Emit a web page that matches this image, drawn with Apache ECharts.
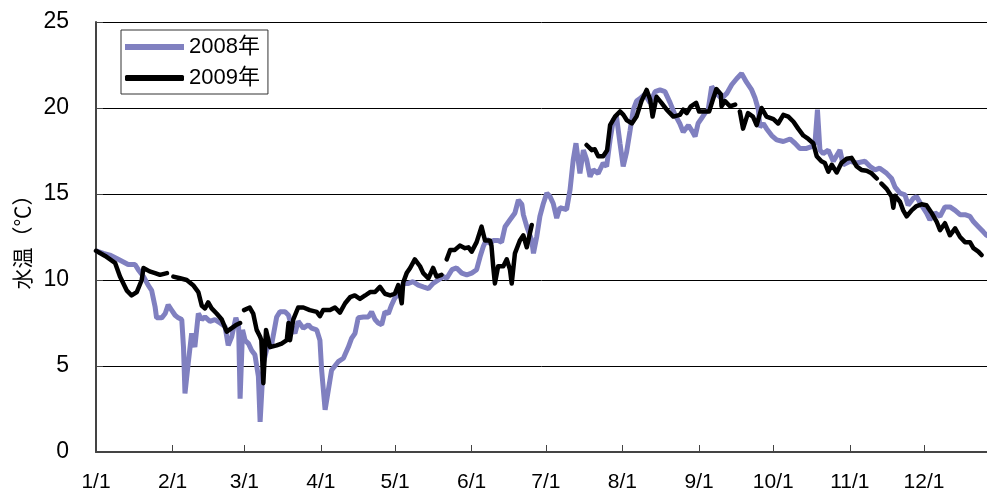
<!DOCTYPE html>
<html>
<head>
<meta charset="utf-8">
<script src="https://cdn.jsdelivr.net/npm/echarts@6/dist/echarts.min.js"></script>
<style>
html,body{margin:0;padding:0;background:#fff;}
#chart{width:987px;height:497px;}
</style>
</head>
<body>
<div id="chart"></div>
<script>
// Day of year (0 = 1/1), month ticks
var monthDays = [0, 31, 60, 91, 121, 152, 182, 213, 244, 274, 305, 335];
var monthLabels = ['1/1','2/1','3/1','4/1','5/1','6/1','7/1','8/1','9/1','10/1','11/1','12/1'];
var yTicks = [0, 5, 10, 15, 20, 25];

// 2008 water temperature
var days2008 = [0,3,5.6,8.4,11.1,13,15.8,17.1,19.2,21.1,22.5,23.9,24.5,26.6,28,29.2,30.6,32,33.3,34.7,35.4,36,37.3,38.7,40,41.4,42.8,44.1,46.1,48.1,50.2,52.2,53.5,54.9,55.5,56.6,57.7,58.3,59.3,60.3,61.7,63,64.3,65.7,66.4,67.7,69.1,71,73.1,74.4,76.5,77.9,79.1,80.5,81.8,83.9,85.9,87.2,89.3,90.6,91.3,92.7,94,95.3,96,98,100.1,102.1,103.4,104.8,106.1,108.2,110.2,111.5,112.9,114.2,115.6,116.9,118.3,119.6,120.9,122.3,123,124.3,126.4,128.3,130.4,132.4,134.5,136.4,138.5,140.5,141.9,144,145.9,148,150,152,154,155.4,156.7,158.1,159.4,160.7,162.7,164.1,165.5,167.5,169.5,170.9,172.3,172.9,174.3,176.3,177,178.3,179.6,181,182.4,183.7,185,186.4,187.7,190.4,191.8,193.1,194.2,195.8,197.2,198.5,199.9,201.2,203.2,205.2,206.6,208,209.3,210.6,212,213.3,214.7,216.1,217.4,218.7,220.1,222.1,224.2,226.2,228.2,230.2,232.3,234.3,236.2,237.6,239.7,241,242.4,243.6,245,246.4,247.7,249.1,251,253.1,255.2,257.2,259.2,261.2,263.2,265.3,266.6,268,268.6,270,271.3,273.4,275.4,278.1,280.8,282.8,284.8,287.5,289.5,290.9,291.9,292.9,294.2,296.3,298.3,301,302.3,305.1,307.8,311.1,313.2,315.2,317.1,319.9,321.9,323.3,325.3,327.3,328.6,330.7,332,334,336,337.4,339.5,341.5,343.5,345.5,347.6,349.6,351.6,353.6,355,357,359,360.3,362];
var temp2008 = [11.7,11.55,11.45,11.25,11.05,10.9,10.9,10.6,10.2,9.7,9.4,8.45,7.8,7.8,8.05,8.55,8.25,7.95,7.8,7.7,6.1,3.4,5.15,6.9,6.1,8.05,7.7,7.85,7.6,7.7,7.5,7.3,6.2,6.7,7.1,7.8,7.3,3.1,7.1,6.5,6.3,5.9,5.65,4.4,1.75,5.15,6.0,6.2,7.85,8.15,8.15,7.95,7.3,6.9,7.6,7.2,7.4,7.2,7.1,6.5,4.75,2.45,3.6,4.75,4.85,5.25,5.45,6.1,6.6,6.9,7.8,7.85,7.85,8.15,7.7,7.5,7.4,8.15,8.05,8.55,8.95,9.2,9.0,9.8,9.8,9.9,9.7,9.6,9.5,9.8,10.0,10.2,10.1,10.6,10.7,10.4,10.3,10.4,10.6,11.35,11.95,12.4,12.1,12.3,12.3,12.2,13.1,13.5,13.9,14.65,14.4,13.8,13.1,12.3,11.55,12.5,13.7,14.45,15.05,14.85,14.45,13.6,14.2,14.1,15.25,17.0,17.95,16.2,17.55,17.0,16.0,16.4,16.2,16.8,16.6,18.15,19.3,19.5,17.95,16.6,17.45,18.7,19.9,20.4,20.55,20.8,20.3,20.95,21.05,20.95,20.3,19.6,19.1,18.6,19.0,18.7,18.35,19.1,19.4,19.7,19.9,21.25,20.85,20.55,20.85,21.35,21.7,22.0,21.5,21.05,20.6,19.9,18.9,19.1,18.8,18.4,18.15,18.05,18.2,17.95,17.65,17.65,17.75,17.95,19.9,17.55,17.35,17.55,16.9,17.55,16.7,16.9,16.8,16.9,16.6,16.4,16.5,16.2,15.9,15.4,15.05,14.95,14.35,14.75,14.85,14.35,13.9,13.5,13.9,13.7,14.25,14.25,14.05,13.8,13.8,13.7,13.4,13.1,12.8,12.6,12.5];

// 2009 water temperature (null = missing data)
var days2009 = [0,3.7,7.7,9.7,12.4,14.4,16.5,18.5,19.2,21.7,23.9,25.9,28.7,30,31.3,34,36.7,39.3,41.4,42.8,44.1,45.4,46.8,48.8,50.9,52.9,54.9,56.9,58.3,59.1,59.9,62.2,63.6,65,66.4,66.9,67.7,68.8,70.4,73.1,75.1,77.2,77.9,78.5,79.8,81.8,83.9,86.5,89.3,90.6,91.9,94.7,96.7,98.7,100.8,102.8,104.7,106.8,108.9,110.9,112.9,114.9,116.9,119,120.9,122.3,123.7,124.3,125.7,127.1,129,131.1,132.4,134.5,136.4,137.8,139.8,140.9,141.9,143.3,145.2,147.2,149.3,150.7,152,154,156,157.4,159.4,160,160.7,161.4,162.7,164.8,166.2,167.5,168.2,169.5,171.5,172.9,174.3,176.3,187,198.5,200.6,201.8,203.2,205.2,206.8,208,210,212,213.4,214.7,216.8,218.7,220.7,222.8,224.2,225.2,226.8,228.8,230.9,233.6,236.2,237.6,239,240.7,242.8,244,246.1,248.1,249.5,251,252.8,253.1,254.5,256.5,258.6,259.6,260.5,261.8,263.8,265.8,267.3,269.3,271.3,274.1,276,278.1,280.1,282.2,284.1,286.2,288.2,290.2,291.6,293.5,294.9,296.3,297.7,299.7,301.6,303.7,305.7,307.8,309.7,311.8,313.8,315.9,316.9,317.8,319.9,321.9,322.6,323.3,325.3,326.6,328,330,332,334,336,338.1,340.1,341.5,343.5,345.5,347.6,349.6,351.6,353.6,355,357,358.3];
var temp2009 = [11.7,11.4,11.0,10.2,9.4,9.1,9.3,10.0,10.7,10.5,10.4,10.3,10.4,null,10.2,10.1,10.0,9.7,9.3,8.5,8.35,8.7,8.35,8.05,7.7,7.0,7.2,7.4,7.5,null,8.25,8.4,8.05,7.1,6.7,6.5,4.0,7.1,6.1,6.2,6.3,6.5,7.5,6.5,7.7,8.4,8.4,8.25,8.15,7.9,8.25,8.25,8.4,8.1,8.65,9.0,9.1,8.9,9.1,9.3,9.3,9.6,9.2,9.1,9.2,9.7,8.65,9.85,10.4,10.7,11.2,10.8,10.4,10.1,10.7,10.2,10.3,null,11.2,11.75,11.75,12.0,11.85,11.9,11.65,12.2,13.1,12.3,12.3,12.0,10.8,9.8,10.8,10.8,11.2,10.6,9.8,11.55,12.3,12.6,11.9,13.2,null,17.85,17.55,17.6,17.2,17.2,17.55,19.0,19.5,19.8,19.6,19.3,19.1,19.5,20.4,21.05,20.5,19.5,20.65,20.3,19.9,19.5,19.6,19.9,19.7,20.1,20.3,19.8,19.8,19.8,20.45,21.1,20.8,20.1,20.4,20.1,20.2,null,19.8,18.8,19.7,19.5,19.0,20.0,19.5,19.35,19.1,19.6,19.5,19.2,18.8,18.4,18.2,17.95,17.2,16.9,16.8,16.3,16.7,16.25,16.8,17.05,17.1,16.6,16.4,16.35,16.2,15.9,null,15.6,15.3,14.85,14.2,14.9,14.55,14.05,13.7,14.05,14.3,14.4,14.35,13.9,13.4,12.9,13.3,12.6,13.0,12.5,12.2,12.2,11.85,11.65,11.45];

function pairs(ds, vs) {
  return ds.map(function (d, i) { return [d, vs[i] === null ? '-' : vs[i]]; });
}

var chart = echarts.init(document.getElementById('chart'), null, {renderer: 'canvas'});
var labelFont = '"Liberation Sans", Arial, sans-serif';
chart.setOption({
  animation: false,
  backgroundColor: '#fff',
  grid: {left: 96, right: 0, top: 22, bottom: 45, containLabel: false},
  legend: {
    orient: 'vertical',
    left: 121, top: 30,
    padding: [4, 8, 3, 4],
    itemGap: 5,
    itemWidth: 59, itemHeight: 6,
    itemTextGap: 3,
    borderColor: '#333', borderWidth: 1,
    backgroundColor: '#fff',
    textStyle: {fontSize: 22, lineHeight: 26, color: '#000', fontFamily: '"Liberation Sans", "Noto Sans CJK JP", sans-serif'},
    data: [{name: '2008年', icon: 'rect'}, {name: '2009年', icon: 'roundRect'}]
  },
  xAxis: {
    type: 'value', min: 0, max: 360.5,
    axisLine: {show: true, lineStyle: {color: '#444', width: 2}},
    axisTick: {show: true, inside: true, length: 7, customValues: monthDays, lineStyle: {color: '#444', width: 1}},
    axisLabel: {
      customValues: monthDays, margin: 20, fontSize: 21, color: '#000', fontFamily: labelFont,
      formatter: function (v) { var i = monthDays.indexOf(v); return i >= 0 ? monthLabels[i] : ''; }
    },
    splitLine: {show: false}
  },
  yAxis: {
    type: 'value', min: 0, max: 25, interval: 5,
    name: '水温（℃）', nameLocation: 'middle', nameGap: 56, nameRotate: 90,
    nameTextStyle: {fontSize: 21, color: '#000', fontFamily: '"Noto Sans CJK JP", sans-serif'},
    axisLine: {show: true, lineStyle: {color: '#444', width: 2}},
    axisTick: {show: true, inside: true, length: 7, lineStyle: {color: '#444'}},
    axisLabel: {margin: 27, fontSize: 23, color: '#000', fontFamily: '"Liberation Sans Narrow", "Liberation Sans", sans-serif',
      formatter: function (v) { return yTicks.indexOf(v) >= 0 ? String(v) : ''; }},
    splitLine: {show: true, lineStyle: {color: '#000', width: 1}}
  },
  series: [
    {
      name: '2008年', type: 'line', showSymbol: false, symbol: 'none',
      color: '#8080C0',
      lineStyle: {color: '#8080C0', width: 5},
      clip: true,
      data: pairs(days2008, temp2008),
      z: 2
    },
    {
      name: '2009年', type: 'line', showSymbol: false, symbol: 'none',
      color: '#000',
      lineStyle: {color: '#000', width: 4.5, cap: 'round', join: 'round'},
      connectNulls: false,
      clip: true,
      data: pairs(days2009, temp2009),
      z: 3
    }
  ]
});
</script>
</body>
</html>
